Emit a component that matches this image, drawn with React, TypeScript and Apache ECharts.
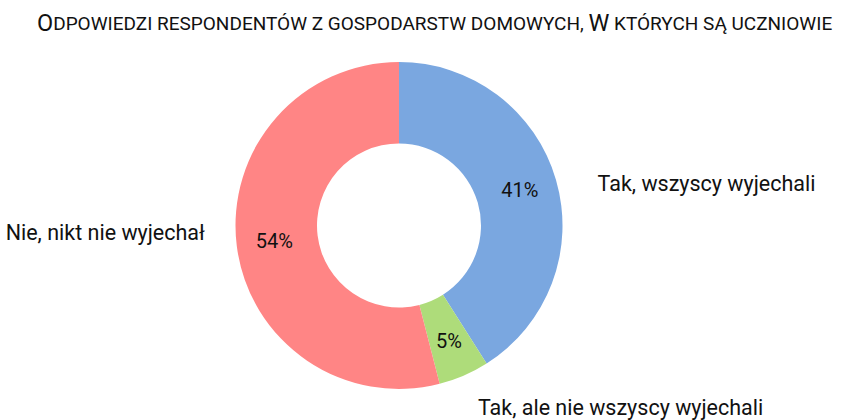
import React, { useEffect, useRef } from "react";
import * as echarts from "echarts";

const categories = ["Tak, wszyscy wyjechali", "Tak, ale nie wszyscy wyjechali", "Nie, nikt nie wyjechał"];
const values = [41, 5, 54];
const colors = ["#7aa7e0", "#aedc7a", "#ff8585"];
const labelOffsets = [
  [-3, 6],
  [-25, 23],
  [13, -15],
];

export default function App() {
  const ref = useRef<HTMLDivElement>(null);
  useEffect(() => {
    document.body.style.margin = "0";
    const chart = echarts.init(ref.current!, null, { renderer: "svg" });
    const data = categories.map((name, i) => ({
      name,
      value: values[i],
      itemStyle: { color: colors[i] },
    }));
    chart.setOption({
      animation: false,
      textStyle: { fontFamily: "Roboto" },
      title: {
        text: "{big|O}{small|DPOWIEDZI RESPONDENTÓW Z GOSPODARSTW DOMOWYCH, }{big|W}{small| KTÓRYCH SĄ UCZNIOWIE}",
        left: 32,
        top: 6,
        textStyle: {
          fontWeight: "normal",
          rich: {
            big: { fontSize: 23.5, color: "#111", fontFamily: "Roboto", fontWeight: "normal" },
            small: { fontSize: 19, color: "#111", fontFamily: "Roboto", fontWeight: "normal" },
          },
        },
      },
      series: [
        {
          type: "pie",
          center: [399, 225.5],
          radius: [82, 163.5],
          startAngle: 90,
          clockwise: true,
          data,
          itemStyle: { borderColor: "#fff", borderWidth: 2 },
          label: {
            show: true,
            position: "inside",
            formatter: "{c}%",
            fontSize: 20,
            color: "#111",
            fontFamily: "Roboto",
          },
          labelLine: { show: false },
        },
        {
          type: "pie",
          center: [399, 225.5],
          radius: [82, 163.5],
          startAngle: 90,
          clockwise: true,
          data,
          silent: true,
          itemStyle: { color: "transparent", borderWidth: 0 },
          label: {
            show: true,
            position: "outside",
            formatter: "{b}",
            fontSize: 21.5,
            color: "#111",
            fontFamily: "Roboto",
            overflow: "none",
            edgeDistance: 0,
          },
          labelLine: { show: false, length: 10, length2: 30 },
          labelLayout: (p: any) => ({
            dx: labelOffsets[p.dataIndex][0],
            dy: labelOffsets[p.dataIndex][1],
          }),
        },
      ],
    });
    return () => chart.dispose();
  }, []);
  return <div ref={ref} style={{ width: 847, height: 420 }} />;
}
